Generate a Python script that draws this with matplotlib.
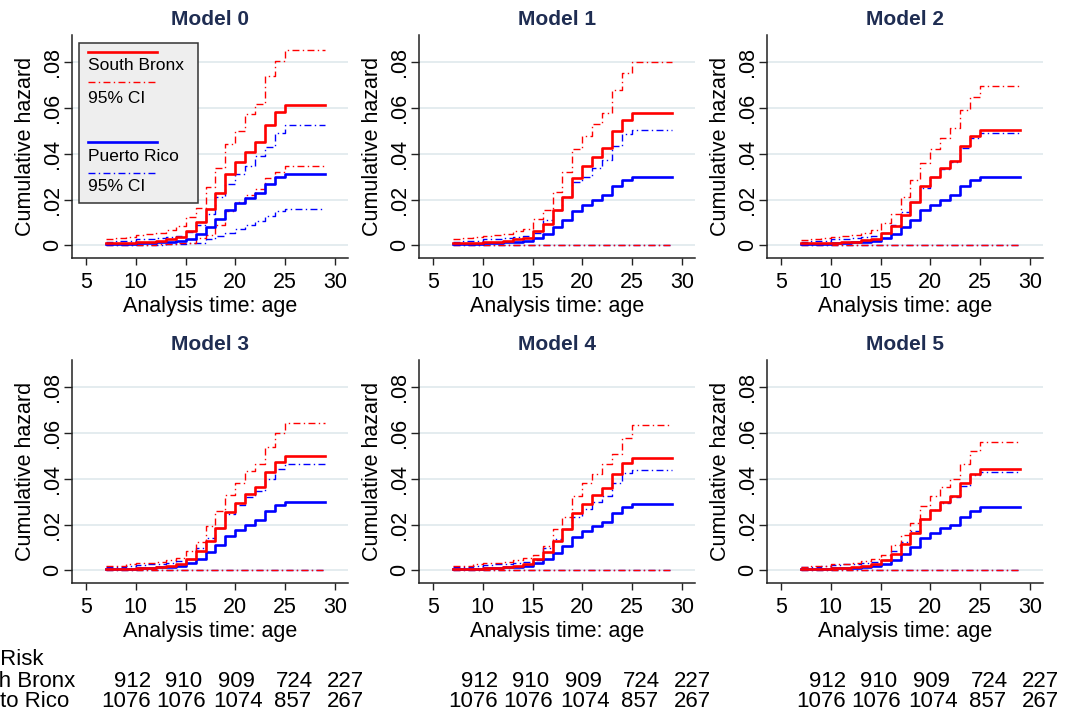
import matplotlib.pyplot as plt
from matplotlib.patches import Rectangle
from matplotlib.lines import Line2D

plt.rcParams['font.family'] = ['Liberation Sans', 'DejaVu Sans']

# ages where the step functions jump; curves are held flat to age 29
ages = [7, 8, 9, 10, 11, 12, 13, 14, 15, 16, 17, 18, 19, 20, 21, 22, 23, 24, 25]
age_end = 29

# Model 0
sb0 = [0.0008, 0.0008, 0.0008, 0.0012, 0.0013, 0.0018, 0.0025, 0.0035, 0.0063, 0.0100,
       0.0158, 0.0227, 0.0310, 0.0362, 0.0410, 0.0450, 0.0527, 0.0582, 0.0613]
sb0_hi = [0.0025, 0.0030, 0.0035, 0.0045, 0.0050, 0.0055, 0.0065, 0.0085, 0.0125, 0.0165,
          0.0255, 0.0340, 0.0445, 0.0500, 0.0575, 0.0620, 0.0740, 0.0808, 0.0853]
sb0_lo = [0.0001, 0.0001, 0.0001, 0.0002, 0.0003, 0.0004, 0.0006, 0.0008, 0.0010, 0.0030,
          0.0045, 0.0090, 0.0150, 0.0190, 0.0220, 0.0245, 0.0295, 0.0320, 0.0345]
pr0 = [0.0005, 0.0005, 0.0006, 0.0009, 0.0010, 0.0012, 0.0015, 0.0018, 0.0026, 0.0050,
       0.0080, 0.0115, 0.0155, 0.0185, 0.0205, 0.0227, 0.0267, 0.0297, 0.0311]
pr0_hi = [0.0015, 0.0017, 0.0020, 0.0025, 0.0028, 0.0031, 0.0035, 0.0042, 0.0058, 0.0090,
          0.0135, 0.0210, 0.0270, 0.0310, 0.0345, 0.0390, 0.0430, 0.0490, 0.0527]
pr0_lo = [0.0001, 0.0001, 0.0001, 0.0002, 0.0002, 0.0003, 0.0004, 0.0005, 0.0008, 0.0010,
          0.0025, 0.0040, 0.0055, 0.0070, 0.0090, 0.0105, 0.0130, 0.0150, 0.0160]

# Model 1
sb1 = [0.0008, 0.0008, 0.0008, 0.0013, 0.0013, 0.0018, 0.0025, 0.0030, 0.0060, 0.0093,
       0.0152, 0.0213, 0.0295, 0.0345, 0.0388, 0.0425, 0.0500, 0.0550, 0.0580]
sb1_hi = [0.0025, 0.0030, 0.0035, 0.0040, 0.0043, 0.0050, 0.0060, 0.0070, 0.0115, 0.0155,
          0.0235, 0.0320, 0.0420, 0.0480, 0.0530, 0.0580, 0.0680, 0.0755, 0.0800]
pr1 = [0.0005, 0.0005, 0.0006, 0.0009, 0.0010, 0.0012, 0.0015, 0.0018, 0.0030, 0.0050,
       0.0078, 0.0110, 0.0150, 0.0175, 0.0200, 0.0220, 0.0258, 0.0285, 0.0300]
pr1_hi = [0.0015, 0.0017, 0.0020, 0.0025, 0.0028, 0.0031, 0.0035, 0.0042, 0.0055, 0.0110,
          0.0155, 0.0210, 0.0275, 0.0300, 0.0340, 0.0375, 0.0435, 0.0485, 0.0505]

# Model 2
sb2 = [0.0008, 0.0008, 0.0008, 0.0010, 0.0012, 0.0016, 0.0022, 0.0028, 0.0052, 0.0083,
       0.0133, 0.0188, 0.0258, 0.0300, 0.0338, 0.0370, 0.0435, 0.0480, 0.0505]
sb2_hi = [0.0022, 0.0025, 0.0030, 0.0035, 0.0040, 0.0045, 0.0052, 0.0065, 0.0095, 0.0135,
          0.0210, 0.0285, 0.0360, 0.0420, 0.0470, 0.0515, 0.0590, 0.0650, 0.0695]
pr2 = [0.0005, 0.0005, 0.0006, 0.0009, 0.0010, 0.0012, 0.0015, 0.0018, 0.0030, 0.0050,
       0.0078, 0.0110, 0.0152, 0.0177, 0.0200, 0.0220, 0.0258, 0.0285, 0.0300]
pr2_hi = [0.0015, 0.0017, 0.0020, 0.0025, 0.0028, 0.0031, 0.0035, 0.0042, 0.0055, 0.0090,
          0.0145, 0.0190, 0.0250, 0.0300, 0.0335, 0.0365, 0.0425, 0.0470, 0.0490]

# Model 3
sb3 = [0.0005, 0.0005, 0.0005, 0.0008, 0.0010, 0.0013, 0.0018, 0.0025, 0.0050, 0.0082,
       0.0130, 0.0185, 0.0255, 0.0295, 0.0333, 0.0365, 0.0430, 0.0475, 0.0500]
sb3_hi = [0.0018, 0.0020, 0.0025, 0.0030, 0.0033, 0.0038, 0.0045, 0.0055, 0.0085, 0.0125,
          0.0195, 0.0260, 0.0330, 0.0380, 0.0435, 0.0465, 0.0540, 0.0600, 0.0645]
pr3 = [0.0005, 0.0005, 0.0006, 0.0009, 0.0010, 0.0012, 0.0015, 0.0018, 0.0030, 0.0050,
       0.0078, 0.0110, 0.0150, 0.0175, 0.0200, 0.0220, 0.0258, 0.0285, 0.0300]
pr3_hi = [0.0015, 0.0016, 0.0018, 0.0022, 0.0025, 0.0028, 0.0032, 0.0040, 0.0050, 0.0095,
          0.0140, 0.0185, 0.0245, 0.0285, 0.0320, 0.0345, 0.0400, 0.0445, 0.0465]

# Model 4
sb4 = [0.0005, 0.0005, 0.0005, 0.0008, 0.0010, 0.0013, 0.0018, 0.0025, 0.0050, 0.0080,
       0.0128, 0.0180, 0.0250, 0.0290, 0.0330, 0.0360, 0.0420, 0.0468, 0.0490]
sb4_hi = [0.0018, 0.0020, 0.0025, 0.0030, 0.0033, 0.0038, 0.0045, 0.0055, 0.0065, 0.0105,
          0.0180, 0.0235, 0.0325, 0.0380, 0.0420, 0.0465, 0.0510, 0.0580, 0.0635]
pr4 = [0.0005, 0.0005, 0.0006, 0.0009, 0.0010, 0.0012, 0.0015, 0.0018, 0.0030, 0.0047,
       0.0075, 0.0107, 0.0145, 0.0172, 0.0193, 0.0212, 0.0250, 0.0275, 0.0290]
pr4_hi = [0.0015, 0.0016, 0.0018, 0.0022, 0.0025, 0.0028, 0.0032, 0.0038, 0.0045, 0.0095,
          0.0135, 0.0180, 0.0235, 0.0270, 0.0300, 0.0325, 0.0380, 0.0425, 0.0440]

# Model 5
sb5 = [0.0005, 0.0005, 0.0005, 0.0008, 0.0010, 0.0012, 0.0017, 0.0025, 0.0045, 0.0070,
       0.0115, 0.0165, 0.0225, 0.0263, 0.0297, 0.0325, 0.0380, 0.0420, 0.0445]
sb5_hi = [0.0016, 0.0018, 0.0020, 0.0025, 0.0028, 0.0032, 0.0040, 0.0048, 0.0065, 0.0110,
          0.0155, 0.0205, 0.0280, 0.0325, 0.0365, 0.0400, 0.0465, 0.0520, 0.0560]
pr5 = [0.0005, 0.0005, 0.0006, 0.0008, 0.0009, 0.0011, 0.0014, 0.0017, 0.0028, 0.0043,
       0.0072, 0.0102, 0.0140, 0.0163, 0.0183, 0.0200, 0.0235, 0.0260, 0.0275]
pr5_hi = [0.0015, 0.0016, 0.0018, 0.0022, 0.0025, 0.0028, 0.0032, 0.0038, 0.0045, 0.0085,
          0.0125, 0.0170, 0.0225, 0.0265, 0.0295, 0.0320, 0.0370, 0.0415, 0.0430]

# lower bounds for models 1-5 sit on zero
ci_zero = [0, 0, 0, 0, 0, 0, 0, 0, 0, 0, 0, 0, 0, 0, 0, 0, 0, 0, 0]

titles = ['Model 0', 'Model 1', 'Model 2', 'Model 3', 'Model 4', 'Model 5']
models = [
    (sb0, sb0_hi, sb0_lo, pr0, pr0_hi, pr0_lo),
    (sb1, sb1_hi, ci_zero, pr1, pr1_hi, ci_zero),
    (sb2, sb2_hi, ci_zero, pr2, pr2_hi, ci_zero),
    (sb3, sb3_hi, ci_zero, pr3, pr3_hi, ci_zero),
    (sb4, sb4_hi, ci_zero, pr4, pr4_hi, ci_zero),
    (sb5, sb5_hi, ci_zero, pr5, pr5_hi, ci_zero),
]

risk_groups = ['South Bronx', 'Puerto Rico']
risk_sb = [912, 910, 909, 724, 227]
risk_pr = [1076, 1076, 1074, 857, 267]

RED = '#ff0000'
BLUE = '#0000ff'
TITLE_C = '#1f2d52'
GRID_C = '#e2ebee'
DASHDOT = (0, (5, 2.4, 1, 2.4))

W, H = 1079, 718
fig = plt.figure(figsize=(W / 100, H / 100), dpi=100)

col_left = [72, 419, 767]
row_top = [35, 360]
ax_w, ax_h = 276, 223


def step(ax, vals, color, ls, lw):
    x = ages + [age_end]
    y = vals + [vals[-1]]
    ax.plot(x, y, color=color, ls=ls, lw=lw, drawstyle='steps-post')


for i, (sb, sb_hi, sb_lo, pr, pr_hi, pr_lo) in enumerate(models):
    r, c = divmod(i, 3)
    ax = fig.add_axes([col_left[c] / W, 1 - (row_top[r] + ax_h) / H, ax_w / W, ax_h / H])

    step(ax, pr_lo, BLUE, DASHDOT, 1.0)
    step(ax, pr_hi, BLUE, DASHDOT, 1.0)
    step(ax, sb_lo, RED, DASHDOT, 1.0)
    step(ax, sb_hi, RED, DASHDOT, 1.0)
    step(ax, pr, BLUE, '-', 1.9)
    step(ax, sb, RED, '-', 1.9)

    ax.set_xlim(3.6, 31.3)
    ax.set_ylim(-0.0056, 0.092)
    ax.set_xticks([5, 10, 15, 20, 25, 30])
    ax.set_yticks([0, 0.02, 0.04, 0.06, 0.08])
    ax.set_yticklabels(['0', '.02', '.04', '.06', '.08'])
    ax.grid(axis='y', color=GRID_C, lw=1.3)
    ax.set_axisbelow(True)
    for s in ['top', 'right']:
        ax.spines[s].set_visible(False)
    for s in ['left', 'bottom']:
        ax.spines[s].set_color('#222222')
        ax.spines[s].set_linewidth(1.1)
    ax.tick_params(axis='x', length=5, width=1, pad=5, labelsize=15.5, color='#222222')
    ax.tick_params(axis='y', length=6, width=1, pad=0.5, labelsize=15.5, color='#222222',
                   labelrotation=90)
    for lab in ax.get_yticklabels():
        lab.set_va('center')

    ax.set_xlabel('Analysis time: age', fontsize=15.5, labelpad=2)
    ax.set_ylabel('Cumulative hazard', fontsize=15.5, labelpad=4)
    ax.set_title(titles[i], fontsize=15, fontweight='bold', color=TITLE_C, pad=7)

    if i == 0:
        # Stata-style legend: key line above each label
        ax.add_patch(Rectangle((0.025, 0.247), 0.432, 0.717, transform=ax.transAxes,
                               facecolor='#eeeeee', edgecolor='#333333', lw=1.1, zorder=5))
        keys = [(0.922, RED, '-', 1.9, 'South Bronx', 0.861),
                (0.788, RED, DASHDOT, 1.0, '95% CI', 0.717),
                (0.519, BLUE, '-', 1.9, 'Puerto Rico', 0.454),
                (0.383, BLUE, DASHDOT, 1.0, '95% CI', 0.320)]
        for ky, kc, kls, klw, txt, ty in keys:
            ax.add_line(Line2D([0.058, 0.308], [ky, ky], transform=ax.transAxes,
                               color=kc, ls=kls, lw=klw, zorder=6))
            ax.text(0.058, ty, txt, transform=ax.transAxes, fontsize=12.5,
                    va='center', ha='left', zorder=6)

# number at risk table (left labels run off the figure edge as in the original)
fs = 16
fig.text(44 / W, 1 - 665 / H, 'Number at Risk', ha='right', va='baseline', fontsize=fs)
fig.text(75 / W, 1 - 687 / H, risk_groups[0], ha='right', va='baseline', fontsize=fs)
fig.text(69 / W, 1 - 707 / H, risk_groups[1], ha='right', va='baseline', fontsize=fs)

sb_off = [61, 112, 164, 222, 273]
pr_off = [54, 109, 166, 221, 273]
for c in range(3):
    for k in range(5):
        fig.text((col_left[c] + sb_off[k]) / W, 1 - 687 / H, str(risk_sb[k]),
                 ha='center', va='baseline', fontsize=fs)
        fig.text((col_left[c] + pr_off[k]) / W, 1 - 707 / H, str(risk_pr[k]),
                 ha='center', va='baseline', fontsize=fs)

fig.savefig('out.png', dpi=100)
